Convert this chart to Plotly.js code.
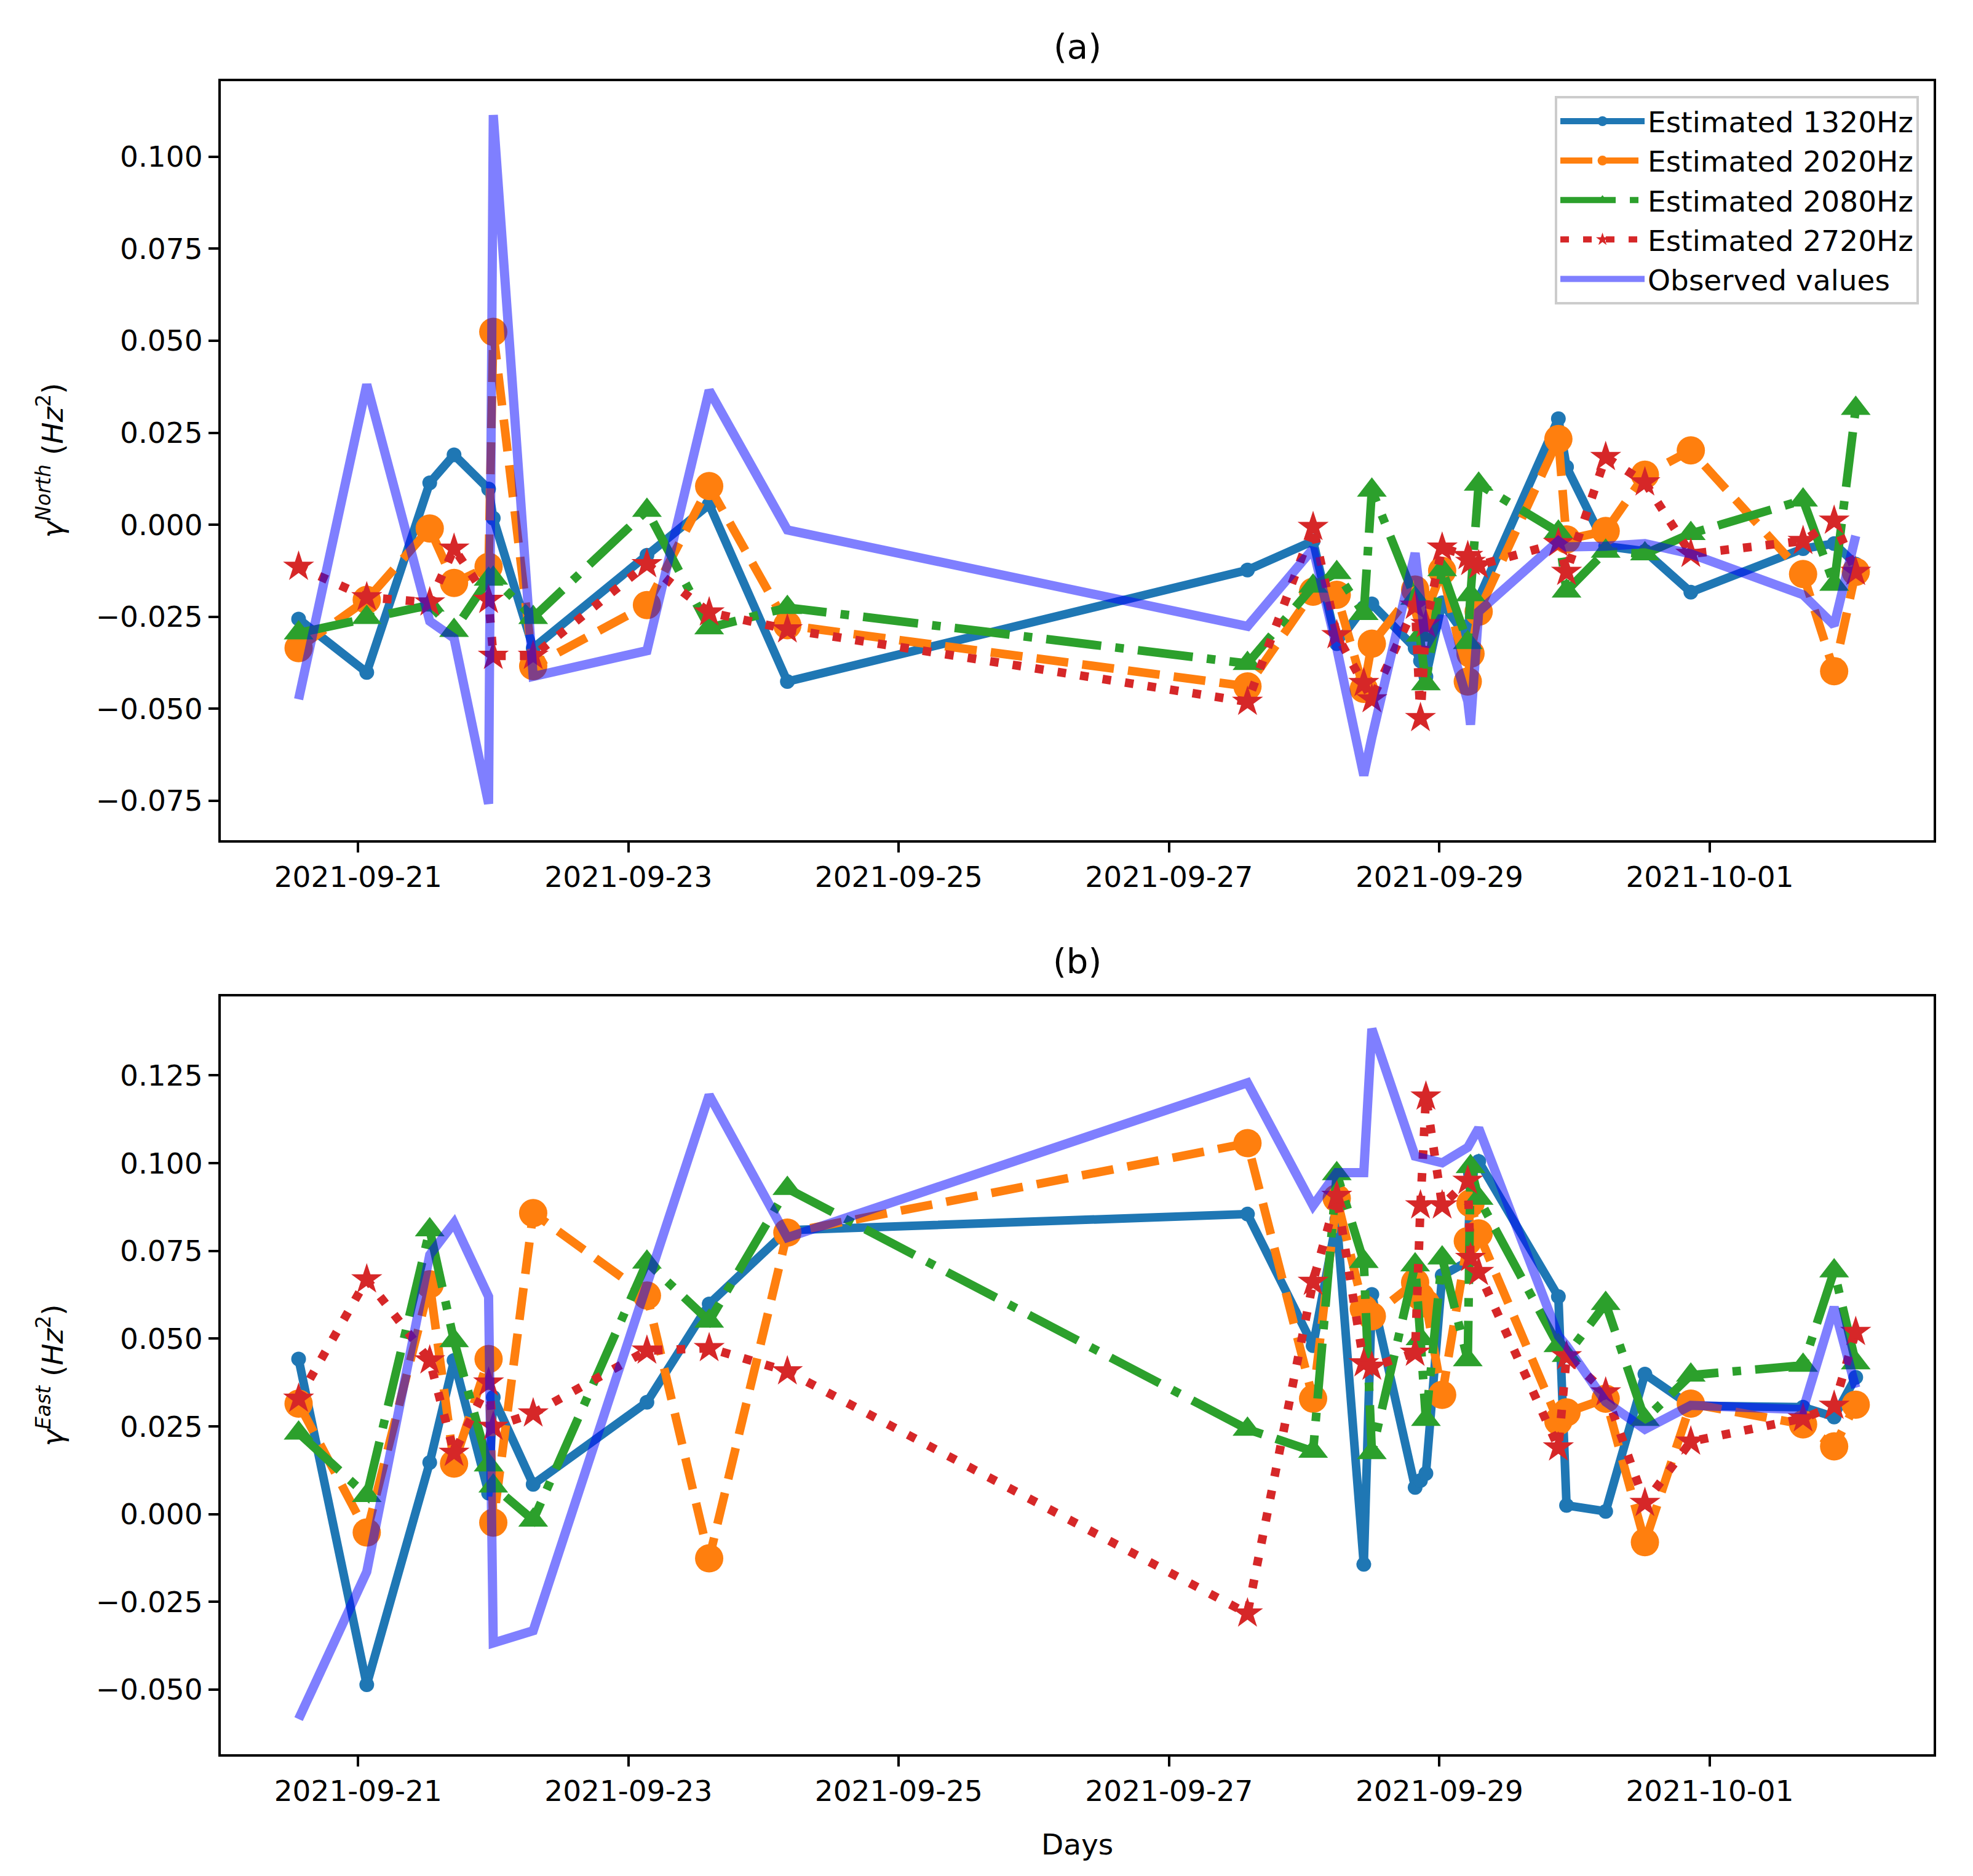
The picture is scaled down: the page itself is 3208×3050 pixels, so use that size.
<!DOCTYPE html>
<html>
<head>
<meta charset="utf-8">
<script src="https://cdn.plot.ly/plotly-3.0.1.min.js"></script>
<style>html,body{margin:0;padding:0;background:#fff}</style>
</head>
<body>
<div id="chart" style="width:3208px;height:3050px"></div>
<script>
// Shared observation times
const times = [
  "2021-09-20 13:26","2021-09-21 01:32","2021-09-21 12:43","2021-09-21 17:02","2021-09-21 23:10",
  "2021-09-22 00:00","2021-09-22 07:05","2021-09-23 03:17","2021-09-23 14:20","2021-09-24 04:13",
  "2021-09-27 13:55","2021-09-28 01:34","2021-09-28 05:46","2021-09-28 10:34","2021-09-28 12:00",
  "2021-09-28 19:41","2021-09-28 20:38","2021-09-28 21:36","2021-09-29 00:29","2021-09-29 05:02",
  "2021-09-29 05:31","2021-09-29 06:58","2021-09-29 21:07","2021-09-29 22:34","2021-09-30 05:31",
  "2021-09-30 12:29","2021-09-30 20:38","2021-10-01 16:34","2021-10-01 22:05","2021-10-02 01:55"
];

const seriesNames = ["Estimated 1320Hz","Estimated 2020Hz","Estimated 2080Hz","Estimated 2720Hz","Observed values"];

// Panel (a): North
const north1320 = [-0.0256,-0.0401,0.0114,0.0190,0.0097,0.0018,-0.0335,-0.0083,0.0055,-0.0426,
  -0.0123,-0.0044,-0.0323,-0.0225,-0.0215,-0.0335,-0.0370,-0.0413,-0.0212,-0.0310,
  -0.0270,-0.0200,0.0288,0.0157,-0.0058,-0.0072,-0.0183,-0.0065,-0.0051,-0.0107];
const north2020 = [-0.0335,-0.0204,-0.0010,-0.0158,-0.0114,0.0524,-0.0384,-0.0218,0.0105,-0.0273,
  -0.0439,-0.0182,-0.0190,-0.0446,-0.0323,-0.0176,-0.0210,-0.0238,-0.0125,-0.0426,
  -0.0350,-0.0236,0.0233,-0.0040,-0.0017,0.0136,0.0202,-0.0134,-0.0398,-0.0128];
const north2080 = [-0.0294,-0.0252,-0.0218,-0.0287,-0.0148,-0.0145,-0.0252,0.0039,-0.0280,-0.0225,
  -0.0377,-0.0167,-0.0130,-0.0241,0.0094,-0.0200,-0.0300,-0.0432,-0.0122,-0.0320,
  -0.0190,0.0110,-0.0020,-0.0180,-0.0072,-0.0079,-0.0024,0.0067,-0.0162,0.0316];
const north2720 = [-0.0114,-0.0197,-0.0211,-0.0065,-0.0204,-0.0356,-0.0356,-0.0107,-0.0238,-0.0284,
  -0.0481,-0.0006,-0.0300,-0.0430,-0.0474,-0.0220,-0.0525,-0.0270,-0.0062,-0.0085,
  -0.0101,-0.0110,-0.0050,-0.0128,0.0184,0.0115,-0.0079,-0.0044,0.0011,-0.0128];
const northObserved = [-0.0474,0.0381,-0.0262,-0.0308,-0.0758,0.1113,-0.0412,-0.0342,0.0365,-0.0014,
  -0.0276,-0.0065,-0.0335,-0.0681,-0.0578,-0.0077,-0.0200,-0.0330,-0.0249,-0.0480,
  -0.0543,-0.0236,-0.0044,-0.0060,-0.0058,-0.0051,-0.0079,-0.0190,-0.0273,-0.0030];

// Panel (b): East
const east1320 = [0.0442,-0.0486,0.0147,0.0438,0.0060,0.0333,0.0085,0.0319,0.0599,0.0809,
  0.0855,0.0480,0.0840,-0.0143,0.0626,0.0076,0.0096,0.0116,0.0680,0.0720,
  0.0970,0.1005,0.0620,0.0025,0.0008,0.0399,0.0309,0.0305,0.0277,0.0390];
const east2020 = [0.0315,-0.0052,0.0655,0.0144,0.0442,-0.0024,0.0858,0.0623,-0.0126,0.0802,
  0.1057,0.0329,0.0900,0.0585,0.0564,0.0660,0.0620,0.0600,0.0340,0.0778,
  0.0886,0.0800,0.0265,0.0290,0.0329,-0.0080,0.0315,0.0256,0.0193,0.0312];
const east2080 = [0.0231,0.0053,0.0810,0.0494,0.0140,0.0080,-0.0017,0.0718,0.0550,0.0928,
  0.0242,0.0179,0.0970,0.0720,0.0175,0.0710,0.0500,0.0270,0.0730,0.0440,
  0.0990,0.0900,0.0480,0.0452,0.0600,0.0270,0.0396,0.0424,0.0693,0.0431];
const east2720 = [0.0329,0.0669,0.0438,0.0175,0.0375,0.0249,0.0287,0.0466,0.0473,0.0407,
  -0.0283,0.0662,0.0907,0.0430,0.0420,0.0460,0.0880,0.1190,0.0880,0.0950,
  0.0730,0.0690,0.0190,0.0450,0.0347,0.0032,0.0207,0.0273,0.0309,0.0519];
const eastObserved = [-0.0584,-0.0164,0.0739,0.0830,0.0620,-0.0367,-0.0332,0.0648,0.1194,0.0788,
  0.1229,0.0879,0.0973,0.0973,0.1383,0.1020,0.1017,0.1013,0.1001,0.1045,
  0.1060,0.1100,0.0508,0.0480,0.0320,0.0242,0.0310,0.0298,0.0590,0.0360];

const northTicks = [-0.075,-0.05,-0.025,0,0.025,0.05,0.075,0.1];
const eastTicks = [-0.05,-0.025,0,0.025,0.05,0.075,0.1,0.125];

const LW = 14;
const styles = [
  {color:'#1f77b4', dash:'solid', symbol:'circle', size:24},
  {color:'#ff7f0e', dash:'52px,23px', symbol:'circle', size:46},
  {color:'#2ca02c', dash:'90px,23px,14px,23px', symbol:'triangle-up', size:42},
  {color:'#d62728', dash:'14px,23px', symbol:'star', size:38}
];

function panel(ests, obs, xa, ya, showLegend) {
  const tr = [];
  ests.forEach((vals, i) => {
    const s = styles[i];
    tr.push({
      x: times, y: vals, xaxis: xa, yaxis: ya, type: 'scatter', mode: 'lines+markers',
      name: seriesNames[i], showlegend: showLegend, legendgroup: 'g' + i,
      line: {color: s.color, width: LW, dash: s.dash},
      marker: {color: s.color, symbol: s.symbol, size: s.size, line: {width: 0}}
    });
  });
  tr.push({
    x: times, y: obs, xaxis: xa, yaxis: ya, type: 'scatter', mode: 'lines',
    name: seriesNames[4], showlegend: showLegend, legendgroup: 'g4',
    line: {color: 'rgba(0,0,255,0.5)', width: 15}
  });
  return tr;
}

const data = [].concat(
  panel([north1320, north2020, north2080, north2720], northObserved, 'x', 'y', true),
  panel([east1320, east2020, east2080, east2720], eastObserved, 'x2', 'y2', false)
);

const FONT = 'DejaVu Sans, Liberation Sans, sans-serif';
const xCommon = {
  type: 'date', range: ['2021-09-19 23:37', '2021-10-02 15:45'],
  tick0: '2021-09-21', dtick: 2 * 86400000, tickformat: '%Y-%m-%d',
  showgrid: false, zeroline: false, showline: true, mirror: true,
  linecolor: '#000', linewidth: 4, ticks: 'outside', ticklen: 16, tickwidth: 4, tickcolor: '#000',
  tickfont: {family: FONT, size: 47, color: '#000'}
};
const yCommon = {
  showgrid: false, zeroline: false, showline: true, mirror: true,
  linecolor: '#000', linewidth: 4, ticks: 'outside', ticklen: 16, tickwidth: 4, tickcolor: '#000',
  tickformat: '.3f', tickfont: {family: FONT, size: 47, color: '#000'}
};

const layout = {
  width: 3208, height: 3050,
  margin: {l: 359, r: 64, t: 132, b: 198},
  paper_bgcolor: '#fff', plot_bgcolor: '#fff',
  font: {family: FONT, color: '#000'},
  xaxis: Object.assign({}, xCommon, {anchor: 'y', domain: [0, 1]}),
  yaxis: Object.assign({}, yCommon, {anchor: 'x', domain: [0.5463, 1], range: [-0.0857, 0.1205], tickvals: northTicks}),
  xaxis2: Object.assign({}, xCommon, {anchor: 'y2', domain: [0, 1]}),
  yaxis2: Object.assign({}, yCommon, {anchor: 'x2', domain: [0, 0.4529], range: [-0.0684, 0.1475], tickvals: eastTicks}),
  legend: {
    x: 0.9914, y: 0.9912, xanchor: 'right', yanchor: 'top',
    bgcolor: '#fff', bordercolor: '#cccccc', borderwidth: 4,
    font: {family: FONT, size: 47, color: '#000'}, itemwidth: 137, tracegroupgap: 0
  },
  annotations: [
    {text: '(a)', xref: 'paper', yref: 'paper', x: 0.5, y: 1.0206, xanchor: 'center', yanchor: 'middle', showarrow: false, font: {family: FONT, size: 56}},
    {text: '(b)', xref: 'paper', yref: 'paper', x: 0.5, y: 0.4739, xanchor: 'center', yanchor: 'middle', showarrow: false, font: {family: FONT, size: 56}},
    {text: 'Days', xref: 'paper', yref: 'paper', x: 0.5, y: -0.0537, xanchor: 'center', yanchor: 'middle', showarrow: false, font: {family: FONT, size: 47}},
    {text: '<i>γ</i><sup><i>North</i></sup> (<i>Hz</i><sup>2</sup>)', xref: 'paper', yref: 'paper', x: -0.0995, y: 0.7732, xanchor: 'center', yanchor: 'middle', textangle: -90, showarrow: false, font: {family: FONT, size: 47}},
    {text: '<i>γ</i><sup><i>East</i></sup> (<i>Hz</i><sup>2</sup>)', xref: 'paper', yref: 'paper', x: -0.0995, y: 0.2265, xanchor: 'center', yanchor: 'middle', textangle: -90, showarrow: false, font: {family: FONT, size: 47}}
  ]
};

Plotly.newPlot('chart', data, layout, {staticPlot: true, displayModeBar: false});
</script>
</body>
</html>
